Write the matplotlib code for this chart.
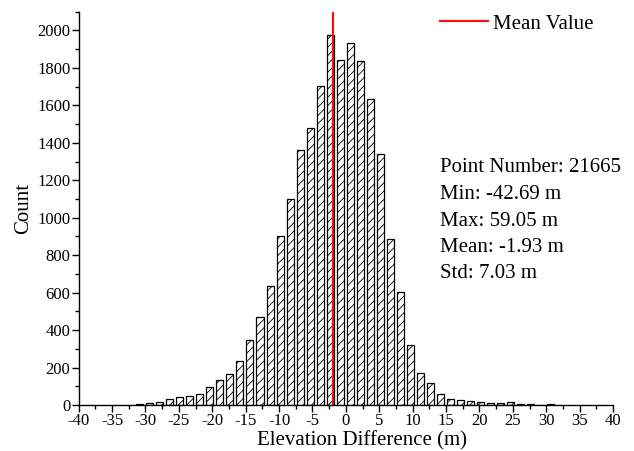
import matplotlib
matplotlib.use("Agg")
import matplotlib.pyplot as plt
from matplotlib.ticker import MultipleLocator

plt.rcParams['font.family'] = ['Liberation Serif', 'DejaVu Serif']
plt.rcParams['axes.unicode_minus'] = False
plt.rcParams['hatch.linewidth'] = 0.6

# bin centres (m) and counts
bin_centers = [-30.85, -29.35, -27.85, -26.35, -24.85, -23.35, -21.85, -20.35,
               -18.85, -17.35, -15.85, -14.35, -12.85, -11.35, -9.85, -8.35,
               -6.85, -5.35, -3.85, -2.35, -0.85, 0.65, 2.15, 3.65, 5.15,
               6.65, 8.15, 9.65, 11.15, 12.65, 14.15, 15.65, 17.15, 18.65,
               20.15, 21.65, 23.15, 24.65, 26.15, 27.65, 29.15, 30.65]
counts = [3, 10, 15, 30, 44, 46, 60, 95, 134, 167, 237, 346, 472, 636, 901,
          1099, 1364, 1480, 1703, 1977, 1842, 1934, 1836, 1633, 1341, 887,
          602, 319, 169, 116, 57, 32, 27, 23, 14, 10, 10, 14, 3, 5, 2, 5]

mean_value = -1.93
stats_lines = ["Point Number: 21665", "Min: -42.69 m", "Max: 59.05 m",
               "Mean: -1.93 m", "Std: 7.03 m"]

fig = plt.figure(figsize=(6.34, 4.51), dpi=100)
ax = fig.add_axes([0.124, 0.102, 0.843, 0.872])

ax.bar(bin_centers, counts, width=1.05, color='white', edgecolor='black',
       linewidth=0.9, hatch='////')
ax.axvline(mean_value, color='#ee1111', linewidth=1.6, label='Mean Value')

ax.set_xlim(-40, 40)
ax.set_ylim(0, 2100)
ax.xaxis.set_major_locator(MultipleLocator(5))
ax.xaxis.set_minor_locator(MultipleLocator(2.5))
ax.yaxis.set_major_locator(MultipleLocator(200))
ax.yaxis.set_minor_locator(MultipleLocator(100))
ax.set_yticks(range(0, 2001, 200))

for s in ['top', 'right']:
    ax.spines[s].set_visible(False)
for s in ['left', 'bottom']:
    ax.spines[s].set_linewidth(1.0)
ax.tick_params(which='major', direction='out', length=5, width=1.0,
               labelsize=12, pad=1)
ax.tick_params(which='minor', direction='out', length=3, width=1.0)

ax.set_xlabel('Elevation Difference (m)', fontsize=15)
ax.xaxis.label.set_va('center')
ax.xaxis.set_label_coords(0.53, -0.09)
ax.set_ylabel('Count', fontsize=15, labelpad=3)

ax.legend(loc='upper left', frameon=False, fontsize=15, handlelength=2.3,
          handletextpad=0.25, borderpad=0, borderaxespad=0,
          bbox_to_anchor=(440 / 634, 1 - 14 / 451),
          bbox_transform=fig.transFigure)

for i, line in enumerate(stats_lines):
    fig.text(440 / 634, 1 - (168 + 26.5 * i) / 451, line, fontsize=15,
             va='center', ha='left')

fig.savefig('out.png', dpi=100)
